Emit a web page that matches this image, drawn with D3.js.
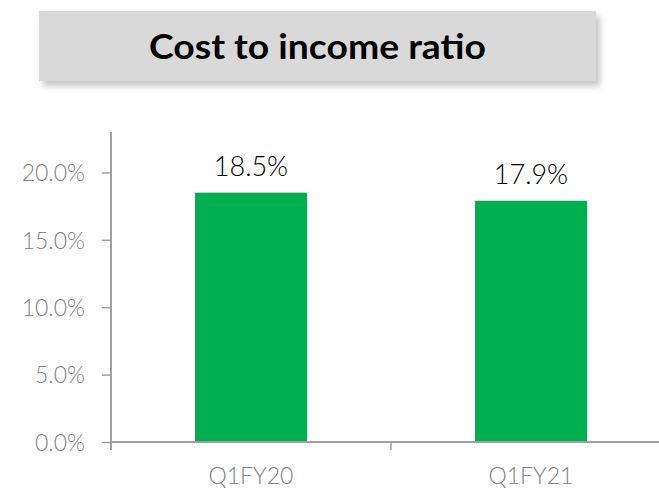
<!DOCTYPE html>
<html>
<head>
<meta charset="utf-8">
<script src="https://cdn.jsdelivr.net/npm/d3@7"></script>
<style>
  html, body { margin: 0; padding: 0; background: #ffffff; }
  svg { display: block; }
  text { font-family: "Lato", "Liberation Sans", sans-serif; }
</style>
</head>
<body>
<svg id="chart" width="659" height="489"></svg>
<script>
// Cost to income ratio by quarter
const title = "Cost to income ratio";
const categories = ["Q1FY20", "Q1FY21"];
const values = [0.185, 0.179];
const yTicks = [0, 0.05, 0.10, 0.15, 0.20];
const yMax = 0.23;

const svg = d3.select("#chart");

// Title banner with soft drop shadow
const defs = svg.append("defs");
const f = defs.append("filter").attr("id", "shadow")
  .attr("x", "-10%").attr("y", "-30%").attr("width", "125%").attr("height", "170%");
f.append("feDropShadow")
  .attr("dx", 4).attr("dy", 5).attr("stdDeviation", 3)
  .attr("flood-color", "#8c8c8c").attr("flood-opacity", 0.5);

const banner = { x: 39, y: 11, w: 557, h: 70 };
svg.append("rect")
  .attr("x", banner.x).attr("y", banner.y)
  .attr("width", banner.w).attr("height", banner.h)
  .attr("fill", "#d9d9d9")
  .attr("filter", "url(#shadow)");
svg.append("text")
  .attr("x", banner.x + banner.w / 2).attr("y", 59)
  .attr("text-anchor", "middle")
  .attr("font-size", 34).attr("font-weight", "bold")
  .attr("fill", "#000")
  .attr("textLength", 337).attr("lengthAdjust", "spacingAndGlyphs")
  .text(title);

// Scales
const x = d3.scaleBand()
  .domain(categories)
  .range([111, 671])
  .paddingInner(0.6)
  .paddingOuter(0.3);

const y = d3.scaleLinear()
  .domain([0, yMax])
  .range([442, 132]);

const axisColor = "#a0a0a0";
const y0 = y(0);

// Y axis
const yAxis = svg.append("g")
  .attr("transform", `translate(${x.range()[0]},0)`)
  .call(d3.axisLeft(y)
    .tickValues(yTicks)
    .tickSize(9)
    .tickSizeOuter(0)
    .tickPadding(17)
    .tickFormat(d3.format(".1%")));
yAxis.select(".domain").remove();
yAxis.selectAll(".tick line").attr("stroke", axisColor).attr("stroke-width", 1.5);
yAxis.selectAll(".tick text")
  .attr("fill", "#7f7f7f")
  .attr("font-size", 23)
  .attr("font-weight", 300)
  .attr("font-family", "Lato, 'Liberation Sans', sans-serif")
  .attr("dy", "0.36em");
svg.append("line")
  .attr("x1", x.range()[0]).attr("x2", x.range()[0])
  .attr("y1", y.range()[1]).attr("y2", y0 + 8)
  .attr("stroke", axisColor).attr("stroke-width", 2);

// Bars
svg.append("g").selectAll("rect")
  .data(categories)
  .join("rect")
  .attr("x", d => x(d))
  .attr("width", x.bandwidth())
  .attr("y", (d, i) => y(values[i]))
  .attr("height", (d, i) => y0 - y(values[i]))
  .attr("fill", "#00b050");

// X axis line and category separators
svg.append("line")
  .attr("x1", x.range()[0]).attr("x2", x.range()[1])
  .attr("y1", y0).attr("y2", y0)
  .attr("stroke", axisColor).attr("stroke-width", 2);
const boundaries = categories.slice(1).map(c => x(c) - x.step() * x.paddingInner() / 2);
svg.append("g").selectAll("line")
  .data(boundaries)
  .join("line")
  .attr("x1", d => d).attr("x2", d => d)
  .attr("y1", y0).attr("y2", y0 + 8)
  .attr("stroke", axisColor).attr("stroke-width", 1.5);

// Category labels
svg.append("g").selectAll("text")
  .data(categories)
  .join("text")
  .attr("x", d => x(d) + x.bandwidth() / 2)
  .attr("y", 484)
  .attr("text-anchor", "middle")
  .attr("font-size", 23)
  .attr("font-weight", 300)
  .attr("fill", "#7f7f7f")
  .text(d => d);

// Value labels
svg.append("g").selectAll("text")
  .data(categories)
  .join("text")
  .attr("x", d => x(d) + x.bandwidth() / 2)
  .attr("y", (d, i) => y(values[i]) - 17)
  .attr("text-anchor", "middle")
  .attr("font-size", 27)
  .attr("font-weight", 300)
  .attr("fill", "#000")
  .text((d, i) => d3.format(".1%")(values[i]));
</script>
</body>
</html>
